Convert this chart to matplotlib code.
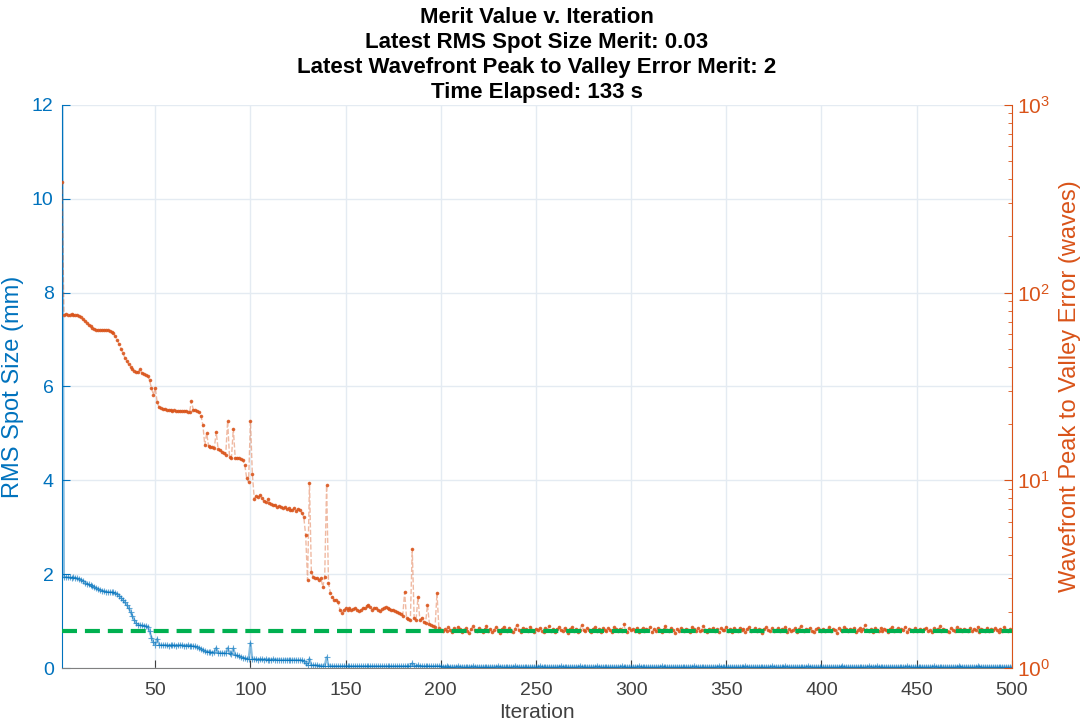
import numpy as np
import matplotlib
matplotlib.use('Agg')
import matplotlib.pyplot as plt
from matplotlib.ticker import LogLocator, NullFormatter

plt.rcParams['font.family'] = ['Liberation Sans', 'DejaVu Sans']

# RMS spot size (mm), iterations 1-200
spot_early = [14,
              1.93, 1.94, 1.93, 1.93, 1.92, 1.93, 1.92, 1.91, 1.90,
              1.88, 1.85, 1.82, 1.80, 1.78, 1.76, 1.74, 1.72, 1.70, 1.68,
              1.66, 1.65, 1.64, 1.63, 1.62, 1.62, 1.62, 1.61, 1.59, 1.57,
              1.54, 1.50, 1.45, 1.40, 1.35, 1.28, 1.20, 1.10, 1.02, 0.95,
              0.92, 0.91, 0.91, 0.90, 0.90, 0.88, 0.78, 0.65, 0.55, 0.50,
              0.62, 0.50, 0.49, 0.49, 0.49, 0.49, 0.48, 0.49, 0.49, 0.49,
              0.48, 0.49, 0.49, 0.49, 0.48, 0.48, 0.49, 0.48, 0.48, 0.47,
              0.46, 0.45, 0.43, 0.41, 0.38, 0.36, 0.34, 0.35, 0.34, 0.33,
              0.34, 0.43, 0.33, 0.33, 0.32, 0.32, 0.31, 0.43, 0.31, 0.30,
              0.42, 0.28, 0.27, 0.25, 0.23, 0.22, 0.21, 0.20, 0.19, 0.53,
              0.19, 0.19, 0.19, 0.18, 0.19, 0.19, 0.18, 0.19, 0.18, 0.18,
              0.18, 0.19, 0.18, 0.18, 0.18, 0.18, 0.17, 0.18, 0.18, 0.18,
              0.18, 0.17, 0.18, 0.17, 0.17, 0.17, 0.17, 0.15, 0.10, 0.06,
              0.20, 0.06, 0.06, 0.06, 0.06, 0.05, 0.05, 0.05, 0.05, 0.23,
              0.05, 0.05, 0.04, 0.04, 0.04, 0.04, 0.04, 0.04, 0.04, 0.04,
              0.04, 0.04, 0.04, 0.04, 0.04, 0.04, 0.04, 0.04, 0.04, 0.04,
              0.04, 0.04, 0.04, 0.04, 0.04, 0.04, 0.04, 0.04, 0.04, 0.04,
              0.04, 0.04, 0.04, 0.04, 0.04, 0.04, 0.04, 0.04, 0.04, 0.04,
              0.04, 0.04, 0.04, 0.05, 0.10, 0.05, 0.04, 0.06, 0.04, 0.04,
              0.04, 0.04, 0.05, 0.04, 0.04, 0.04, 0.04, 0.05, 0.04, 0.04]

# RMS spot size (mm), iterations 201-500
spot_tail = [0.03, 0.03, 0.04, 0.03, 0.03, 0.03, 0.03, 0.03, 0.04, 0.03, 0.03, 0.03, 0.03, 0.03, 0.03, 0.03, 0.04, 0.03, 0.03, 0.03, 0.03, 0.03, 0.03, 0.03, 0.03,
             0.03, 0.03, 0.03, 0.03, 0.04, 0.03, 0.03, 0.03, 0.03, 0.03, 0.03, 0.03, 0.03, 0.04, 0.03, 0.03, 0.03, 0.03, 0.03, 0.03, 0.03, 0.03, 0.03, 0.03, 0.03,
             0.03, 0.04, 0.03, 0.03, 0.03, 0.03, 0.03, 0.03, 0.03, 0.03, 0.03, 0.03, 0.04, 0.03, 0.03, 0.03, 0.03, 0.03, 0.03, 0.03, 0.03, 0.03, 0.04, 0.03, 0.03,
             0.03, 0.03, 0.03, 0.03, 0.03, 0.03, 0.04, 0.03, 0.03, 0.03, 0.03, 0.03, 0.03, 0.03, 0.03, 0.03, 0.03, 0.03, 0.03, 0.04, 0.03, 0.03, 0.03, 0.03, 0.03,
             0.03, 0.03, 0.03, 0.04, 0.03, 0.03, 0.03, 0.03, 0.03, 0.03, 0.03, 0.03, 0.03, 0.03, 0.03, 0.04, 0.03, 0.03, 0.03, 0.03, 0.03, 0.03, 0.03, 0.03, 0.03,
             0.03, 0.03, 0.03, 0.03, 0.03, 0.03, 0.03, 0.04, 0.03, 0.03, 0.03, 0.03, 0.03, 0.03, 0.03, 0.03, 0.03, 0.03, 0.03, 0.03, 0.04, 0.03, 0.03, 0.03, 0.03,
             0.03, 0.03, 0.03, 0.03, 0.03, 0.03, 0.03, 0.03, 0.03, 0.04, 0.03, 0.03, 0.03, 0.03, 0.03, 0.03, 0.03, 0.03, 0.03, 0.03, 0.03, 0.03, 0.03, 0.04, 0.03,
             0.03, 0.03, 0.03, 0.03, 0.03, 0.04, 0.03, 0.03, 0.03, 0.03, 0.03, 0.03, 0.03, 0.03, 0.03, 0.03, 0.03, 0.04, 0.03, 0.03, 0.03, 0.03, 0.03, 0.03, 0.03,
             0.03, 0.03, 0.03, 0.03, 0.03, 0.03, 0.03, 0.03, 0.03, 0.03, 0.04, 0.03, 0.03, 0.03, 0.03, 0.03, 0.03, 0.03, 0.03, 0.03, 0.03, 0.03, 0.03, 0.03, 0.04,
             0.03, 0.03, 0.03, 0.04, 0.03, 0.03, 0.03, 0.03, 0.03, 0.03, 0.03, 0.03, 0.03, 0.03, 0.03, 0.03, 0.03, 0.03, 0.03, 0.04, 0.03, 0.03, 0.03, 0.03, 0.03,
             0.03, 0.03, 0.03, 0.03, 0.03, 0.03, 0.03, 0.03, 0.04, 0.03, 0.03, 0.03, 0.03, 0.03, 0.03, 0.03, 0.03, 0.03, 0.03, 0.03, 0.03, 0.04, 0.03, 0.03, 0.03,
             0.03, 0.03, 0.03, 0.03, 0.03, 0.03, 0.04, 0.03, 0.03, 0.03, 0.03, 0.03, 0.03, 0.03, 0.03, 0.03, 0.03, 0.03, 0.03, 0.03, 0.03, 0.03, 0.03, 0.03, 0.03]

# wavefront peak-to-valley error (waves), iterations 1-200
pv_early = [390,
            76, 77, 76, 76, 77, 76, 75.5, 76, 75,
            74, 72, 70.5, 69, 67.5, 66, 65, 64, 63.5, 63.2,
            63, 63, 63.3, 63, 63, 62.5, 62, 60.5, 58.5, 56,
            53, 50, 47.5, 45, 43, 41.5, 40, 39, 38.2, 37.8,
            37.8, 39, 37.2, 37, 36.5, 36, 34, 31, 28.5, 31,
            26, 24.5, 24.2, 24.0, 23.9, 23.8, 23.6, 23.7, 23.5, 23.6,
            23.4, 23.3, 23.5, 23.3, 23.4, 23.5, 23.2, 23.1, 26.4, 23.6,
            23.7, 23.5, 23.2, 22.0, 19.7, 15.4, 17.8, 15.2, 15.1, 15.0,
            14.8, 18.1, 14.7, 14.5, 14.2, 13.9, 13.6, 20.7, 13.3, 13.1,
            18.8, 13.1, 13.2, 13.1, 13.0, 12.8, 12.1, 10.3, 9.8, 20.7,
            10.8, 7.96, 8.2, 8.15, 8.35, 8.0, 7.8, 7.66, 7.9, 7.6,
            7.5, 7.4, 7.39, 7.2, 7.3, 7.25, 7.1, 7.21, 7.0, 7.1,
            6.95, 6.95, 7.1, 6.9, 7.05, 6.95, 6.70, 6.38, 5.11, 2.94,
            9.7, 3.25, 3.05, 3.02, 3.02, 2.95, 3.02, 2.70, 3.05, 9.4,
            2.84, 2.51, 2.40, 2.30, 2.30, 2.25, 2.04, 1.96, 2.04, 2.08,
            2.05, 2.08, 2.04, 2.06, 2.08, 2.05, 2.02, 2.04, 2.08, 2.10,
            2.15, 2.17, 2.12, 2.05, 2.08, 2.10, 2.04, 2.02, 2.06, 2.10,
            2.12, 2.08, 2.06, 2.05, 2.04, 2.02, 2.00, 1.96, 1.95, 1.90,
            2.54, 1.85, 1.82, 1.80, 4.31, 1.85, 1.80, 2.39, 1.80, 1.85,
            1.76, 1.74, 2.17, 1.72, 1.70, 1.68, 1.66, 2.51, 1.63, 1.60]

# wavefront peak-to-valley error (waves), iterations 201-500
pv_tail = [1.58, 1.62, 1.57, 1.65, 1.60, 1.55, 1.63, 1.59, 1.66, 1.61, 1.56, 1.60, 1.64, 1.58, 1.53, 1.62, 1.67, 1.59, 1.57, 1.63, 1.60, 1.55, 1.61, 1.68, 1.58,
           1.62, 1.56, 1.60, 1.65, 1.59, 1.54, 1.61, 1.66, 1.60, 1.57, 1.63, 1.58, 1.55, 1.62, 1.70, 1.60, 1.56, 1.64, 1.59, 1.61, 1.57, 1.66, 1.60, 1.55, 1.62,
           1.59, 1.64, 1.58, 1.56, 1.63, 1.60, 1.67, 1.57, 1.61, 1.55, 1.62, 1.66, 1.59, 1.58, 1.64, 1.60, 1.54, 1.61, 1.65, 1.58, 1.62, 1.56, 1.60, 1.69, 1.59,
           1.57, 1.63, 1.60, 1.55, 1.61, 1.66, 1.58, 1.62, 1.56, 1.64, 1.60, 1.57, 1.63, 1.59, 1.55, 1.65, 1.61, 1.58, 1.62, 1.57, 1.71, 1.60, 1.56, 1.63, 1.59,
           1.61, 1.58, 1.64, 1.56, 1.60, 1.63, 1.57, 1.62, 1.59, 1.66, 1.55, 1.61, 1.58, 1.64, 1.60, 1.56, 1.62, 1.67, 1.59, 1.57, 1.63, 1.60, 1.54, 1.62, 1.58,
           1.64, 1.59, 1.57, 1.62, 1.60, 1.55, 1.65, 1.61, 1.58, 1.63, 1.57, 1.60, 1.68, 1.59, 1.56, 1.62, 1.60, 1.64, 1.57, 1.61, 1.55, 1.63, 1.59, 1.60, 1.66,
           1.58, 1.61, 1.56, 1.63, 1.60, 1.57, 1.64, 1.59, 1.62, 1.55, 1.61, 1.66, 1.58, 1.60, 1.63, 1.57, 1.62, 1.59, 1.54, 1.61, 1.65, 1.60, 1.57, 1.63, 1.58,
           1.60, 1.64, 1.57, 1.61, 1.59, 1.66, 1.56, 1.62, 1.58, 1.60, 1.63, 1.55, 1.61, 1.67, 1.59, 1.57, 1.62, 1.60, 1.64, 1.58, 1.56, 1.61, 1.63, 1.59, 1.57,
           1.62, 1.58, 1.60, 1.65, 1.57, 1.61, 1.59, 1.54, 1.63, 1.60, 1.58, 1.66, 1.61, 1.57, 1.62, 1.59, 1.64, 1.56, 1.60, 1.63, 1.58, 1.61, 1.69, 1.59, 1.57,
           1.61, 1.56, 1.63, 1.60, 1.58, 1.64, 1.57, 1.62, 1.59, 1.55, 1.61, 1.65, 1.58, 1.60, 1.63, 1.57, 1.61, 1.59, 1.66, 1.56, 1.62, 1.60, 1.58, 1.63, 1.57,
           1.59, 1.62, 1.57, 1.61, 1.64, 1.58, 1.60, 1.56, 1.63, 1.59, 1.61, 1.67, 1.57, 1.62, 1.60, 1.58, 1.55, 1.63, 1.60, 1.58, 1.65, 1.59, 1.61, 1.57, 1.62,
           1.60, 1.58, 1.63, 1.57, 1.61, 1.59, 1.66, 1.56, 1.62, 1.60, 1.58, 1.64, 1.57, 1.61, 1.59, 1.63, 1.60, 1.56, 1.62, 1.58, 1.65, 1.60, 1.57, 1.61, 1.59]

pv_target = 1.57   # green dashed reference level

title_lines = ['Merit Value v. Iteration',
               'Latest RMS Spot Size Merit: 0.03',
               'Latest Wavefront Peak to Valley Error Merit: 2',
               'Time Elapsed: 133 s']

spot = spot_early + spot_tail
pv = pv_early + pv_tail
iters = np.arange(1, len(spot) + 1)

blue = '#0072BD'
orange = '#D95319'
green = '#00B050'
dark = '#404040'

fig = plt.figure(figsize=(10.88, 7.24), dpi=100)
ax1 = fig.add_axes([0.057, 0.0773, 0.873, 0.778])
ax2 = ax1.twinx()

# RMS spot size, left axis
ax1.plot(iters, spot, color=blue, linewidth=1.6, alpha=0.45)
ax1.plot(iters, spot, linestyle='none', marker='+', markersize=5,
         markeredgewidth=0.8, color=blue, alpha=0.6)
ax1.set_xlim(1, 500)
ax1.set_ylim(0, 12)
ax1.set_xticks(np.arange(50, 501, 50))
ax1.set_yticks(np.arange(0, 13, 2))
ax1.grid(True, color='#e4ebf2', linewidth=1.0)
ax1.set_axisbelow(True)
ax1.set_xlabel('Iteration', fontsize=15, color=dark, labelpad=3)
ax1.set_ylabel('RMS Spot Size (mm)', fontsize=17, color=blue, labelpad=6)
ax1.tick_params(axis='x', direction='in', length=6, colors=dark, labelsize=14, pad=10)
ax1.tick_params(axis='y', direction='in', length=6, colors=blue, labelsize=14, pad=6)
ax1.spines['left'].set_color(blue)
ax1.spines['bottom'].set_color('#808080')
ax1.spines['top'].set_visible(False)
ax1.spines['right'].set_visible(False)

# wavefront PV error, right log axis
ax2.set_yscale('log')
ax2.plot(iters, pv, color=orange, linewidth=1.0, linestyle='--', alpha=0.4)
ax2.plot(iters, pv, linestyle='none', marker='.', markersize=3.2, color=orange, alpha=0.8)
ax2.axhline(pv_target, color=green, linewidth=3, dashes=(3.6, 1.9))
ax2.set_ylim(1, 1000)
ax2.yaxis.set_major_locator(LogLocator(base=10, numticks=5))
ax2.yaxis.set_minor_locator(LogLocator(base=10, subs=np.arange(2, 10), numticks=20))
ax2.yaxis.set_minor_formatter(NullFormatter())
ax2.tick_params(axis='y', which='major', direction='in', length=6, colors=orange,
                labelsize=15, pad=4)
ax2.tick_params(axis='y', which='minor', direction='in', length=3, colors=orange)
ax2.set_ylabel('Wavefront Peak to Valley Error (waves)', fontsize=17, color=orange, labelpad=6)
ax2.spines['right'].set_color(orange)
ax2.spines['left'].set_visible(False)
ax2.spines['top'].set_visible(False)
ax2.spines['bottom'].set_visible(False)

ax1.set_title('\n'.join(title_lines), fontsize=16, fontweight='bold',
              color='black', linespacing=1.25, pad=5)

fig.savefig('out.png', dpi=100)
